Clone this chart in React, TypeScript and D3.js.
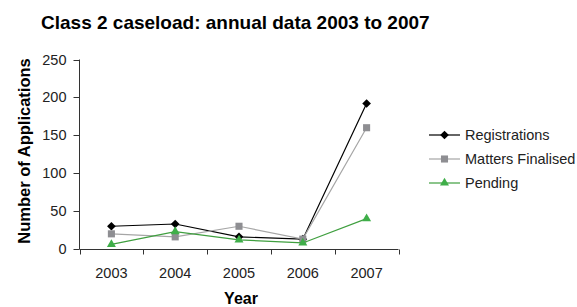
import React from "react";
import * as d3 from "d3";

const years = ["2003", "2004", "2005", "2006", "2007"];
const registrations = [30, 33, 16, 13, 192];
const mattersFinalised = [20, 16, 30, 13, 160];
const pending = [6, 23, 12, 8, 40];
const yTicks = [0, 50, 100, 150, 200, 250];

const W = 577;
const H = 307;

export default function App() {
  const x = d3.scaleBand<string>().domain(years).range([79.5, 398.5]);
  const y = d3.scaleLinear().domain([0, 250]).range([249, 59.5]);
  const cx = (d: string) => (x(d) ?? 0) + x.bandwidth() / 2;
  const line = d3
    .line<number>()
    .x((_, i) => cx(years[i]))
    .y((v) => y(v));
  const font = "'Liberation Sans', Arial, Helvetica, sans-serif";

  const series = [
    { name: "Registrations", values: registrations, line: "#000", fill: "#000", shape: d3.symbolDiamond2, size: 48, ly: 135 },
    { name: "Matters Finalised", values: mattersFinalised, line: "#a6a6a6", fill: "#8e8e92", shape: d3.symbolSquare2, size: 64, ly: 159 },
    { name: "Pending", values: pending, line: "#3f9f3f", fill: "#3fae49", shape: d3.symbolTriangle2, size: 58, ly: 183 },
  ];

  const bandEdges = years.map((d) => x(d) ?? 0).concat([398.5]);

  return (
    <svg width={W} height={H} style={{ position: "absolute", left: 0, top: 0 }} fontFamily={font}>
      <rect width={W} height={H} fill="#fff" />
      <text x={41} y={29} fontSize={19} fontWeight="bold" fill="#000">
        Class 2 caseload: annual data 2003 to 2007
      </text>
      {/* y axis */}
      <line x1={79.5} x2={79.5} y1={y(250)} y2={249} stroke="#333" />
      {yTicks.map((t) => (
        <g key={t}>
          <line x1={73.5} x2={79.5} y1={Math.round(y(t)) + 0.5} y2={Math.round(y(t)) + 0.5} stroke="#333" />
          <text x={66.5} y={y(t)} dy="0.35em" textAnchor="end" fontSize={14.5} fill="#222">
            {t}
          </text>
        </g>
      ))}
      {/* x axis */}
      <line x1={79.5} x2={398.5} y1={249.5} y2={249.5} stroke="#333" />
      {bandEdges.map((e, i) => (
        <line key={i} x1={Math.round(e) + 0.5} x2={Math.round(e) + 0.5} y1={249.5} y2={254.5} stroke="#333" />
      ))}
      {years.map((d) => (
        <text key={d} x={cx(d)} y={278} textAnchor="middle" fontSize={14.5} fill="#222">
          {d}
        </text>
      ))}
      <text x={241} y={304} textAnchor="middle" fontSize={16} fontWeight="bold" fill="#000">
        Year
      </text>
      <text
        transform={`translate(30,151) rotate(-90)`}
        textAnchor="middle"
        fontSize={16.5}
        fontWeight="bold"
        fill="#000"
      >
        Number of Applications
      </text>
      {/* series */}
      {series.map((s) => (
        <g key={s.name}>
          <path d={line(s.values) ?? ""} fill="none" stroke={s.line} strokeWidth={1.2} />
          {s.values.map((v, i) => (
            <path
              key={i}
              d={d3.symbol().type(s.shape).size(s.size)() ?? ""}
              transform={`translate(${cx(years[i])},${y(v)})`}
              fill={s.fill}
            />
          ))}
        </g>
      ))}
      {/* legend */}
      {series.map((s) => (
        <g key={s.name + "l"}>
          <line x1={429} x2={460} y1={s.ly} y2={s.ly} stroke={s.line} strokeWidth={1.2} />
          <path d={d3.symbol().type(s.shape).size(s.size)() ?? ""} transform={`translate(444.5,${s.ly})`} fill={s.fill} />
          <text x={465} y={s.ly} dy="0.35em" fontSize={14.5} fill="#222">
            {s.name}
          </text>
        </g>
      ))}
    </svg>
  );
}
